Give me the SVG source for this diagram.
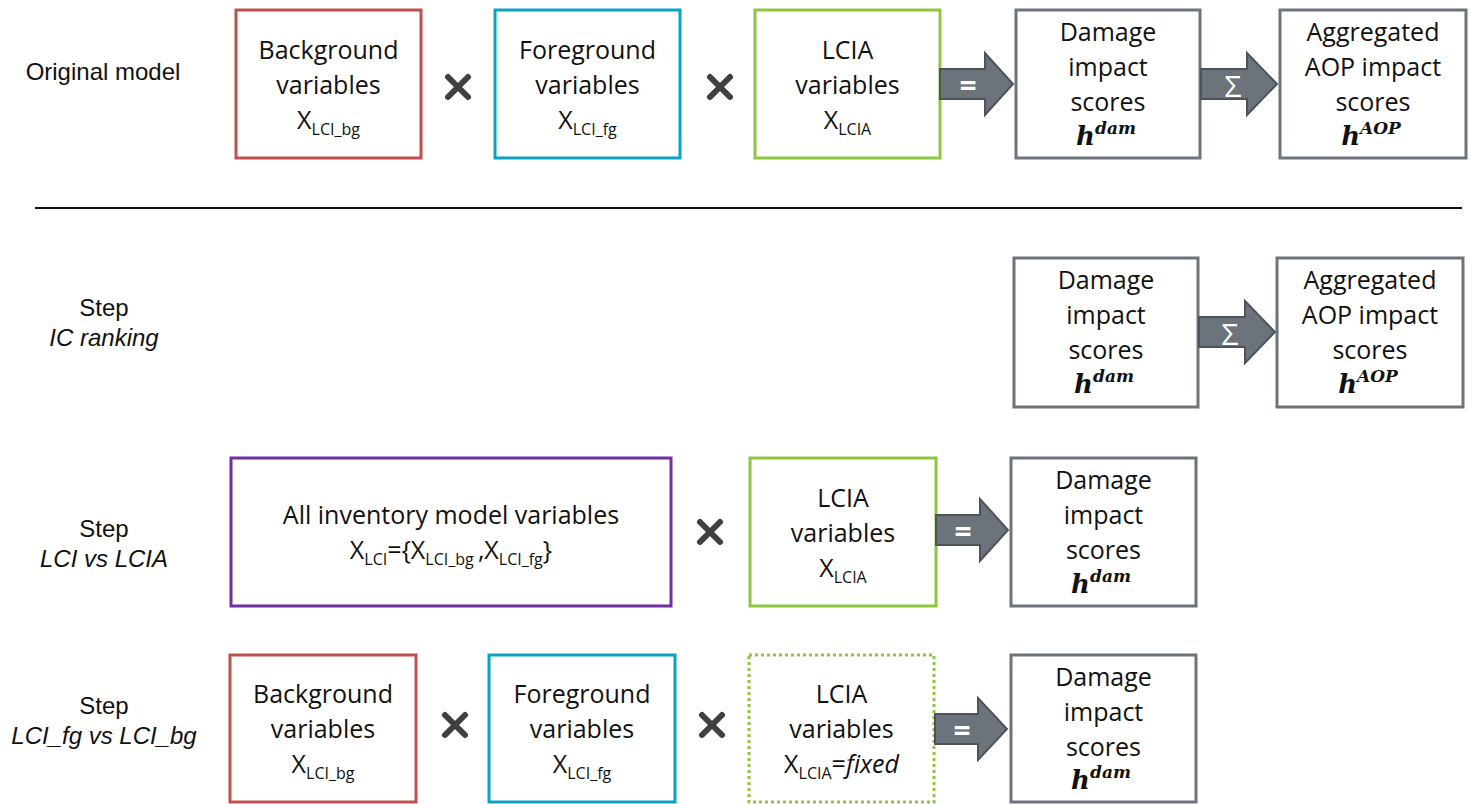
<svg xmlns="http://www.w3.org/2000/svg" width="1470" height="804" viewBox="0 0 1470 804">
<style>
.box{fill:#fff;stroke-width:3}
.red{stroke:#c0504d}
.cyan{stroke:#0ba3c1}
.green{stroke:#8dc63f}
.dot{stroke:#8dc63f;stroke-dasharray:3 3}
.purple{stroke:#7030a0}
.gray{stroke:#6d737a}
.t{font-family:"Open Sans","Liberation Sans",sans-serif;font-size:25px;fill:#111;text-anchor:middle}
.sub{font-size:16px}
.lab{font-family:"Liberation Sans",Arial,sans-serif;font-size:24px;fill:#111;text-anchor:middle}
.m{font-family:"DejaVu Serif","Liberation Serif",serif;font-weight:bold;font-style:italic;font-size:26px;fill:#111;text-anchor:middle}
.msup{font-size:17px}
.arrow{fill:#6d737a;stroke:#4d5359;stroke-width:2}
.op{font-family:"Open Sans","Liberation Sans",sans-serif;font-size:30px;fill:#fff;text-anchor:middle}
.x{stroke:#404040;stroke-width:6;stroke-linecap:round}
</style>

<!-- labels -->
<g id="labels">
<text class="lab" x="103" y="80">Original model</text>
<text class="lab" x="104" y="316">Step</text>
<text class="lab" x="104" y="346" font-style="italic">IC ranking</text>
<text class="lab" x="104" y="537">Step</text>
<text class="lab" x="104" y="567" font-style="italic">LCI vs LCIA</text>
<text class="lab" x="104" y="714">Step</text>
<text class="lab" x="104" y="744" font-style="italic">LCI_fg vs LCI_bg</text>
</g>

<line x1="35" y1="208" x2="1462" y2="208" stroke="#111" stroke-width="2"/>

<!-- Row 1 -->
<g id="r1-bg">
<rect class="box red" x="236" y="10" width="185" height="148"/>
<text class="t" x="328.5" y="59">Background</text>
<text class="t" x="328.5" y="94">variables</text>
<text class="t" x="328.5" y="129">X<tspan class="sub" dy="6">LCI_bg</tspan></text>
</g>
<g id="r1-fg">
<rect class="box cyan" x="495" y="10" width="185" height="148"/>
<text class="t" x="587.5" y="59">Foreground</text>
<text class="t" x="587.5" y="94">variables</text>
<text class="t" x="587.5" y="129">X<tspan class="sub" dy="6">LCI_fg</tspan></text>
</g>
<g id="r1-lcia">
<rect class="box green" x="755" y="10" width="185" height="148"/>
<text class="t" x="847.5" y="59">LCIA</text>
<text class="t" x="847.5" y="94">variables</text>
<text class="t" x="847.5" y="129">X<tspan class="sub" dy="6">LCIA</tspan></text>
</g>
<g id="r1-dam">
<rect class="box gray" x="1016" y="10" width="184" height="148"/>
<text class="t" x="1108" y="41">Damage</text>
<text class="t" x="1108" y="76">impact</text>
<text class="t" x="1108" y="111">scores</text>
<text class="m" x="1106" y="145">h<tspan class="msup" dy="-11">dam</tspan></text>
</g>
<g id="r1-agg">
<rect class="box gray" x="1280" y="10" width="186" height="148"/>
<text class="t" x="1373" y="41">Aggregated</text>
<text class="t" x="1373" y="76">AOP impact</text>
<text class="t" x="1373" y="111">scores</text>
<text class="m" x="1371" y="145">h<tspan class="msup" dy="-11">AOP</tspan></text>
</g>

<!-- Row 2 -->
<g id="r2-dam">
<rect class="box gray" x="1014" y="258" width="184" height="149"/>
<text class="t" x="1106" y="289">Damage</text>
<text class="t" x="1106" y="324">impact</text>
<text class="t" x="1106" y="359">scores</text>
<text class="m" x="1104" y="393">h<tspan class="msup" dy="-11">dam</tspan></text>
</g>
<g id="r2-agg">
<rect class="box gray" x="1277" y="258" width="186" height="149"/>
<text class="t" x="1370" y="289">Aggregated</text>
<text class="t" x="1370" y="324">AOP impact</text>
<text class="t" x="1370" y="359">scores</text>
<text class="m" x="1368" y="393">h<tspan class="msup" dy="-11">AOP</tspan></text>
</g>

<!-- Row 3 -->
<g id="r3-inv">
<rect class="box purple" x="231" y="458" width="440" height="148"/>
<text class="t" x="451" y="524">All inventory model variables</text>
<text class="t" x="451" y="559">X<tspan class="sub" dy="6">LCI</tspan><tspan dy="-6">={X</tspan><tspan class="sub" dy="6">LCI_bg </tspan><tspan dy="-6">,X</tspan><tspan class="sub" dy="6">LCI_fg</tspan><tspan dy="-6">}</tspan></text>
</g>
<g id="r3-lcia">
<rect class="box green" x="750" y="458" width="186" height="148"/>
<text class="t" x="843" y="507">LCIA</text>
<text class="t" x="843" y="542">variables</text>
<text class="t" x="843" y="577">X<tspan class="sub" dy="6">LCIA</tspan></text>
</g>
<g id="r3-dam">
<rect class="box gray" x="1011" y="458" width="185" height="148"/>
<text class="t" x="1103.5" y="489">Damage</text>
<text class="t" x="1103.5" y="524">impact</text>
<text class="t" x="1103.5" y="559">scores</text>
<text class="m" x="1101" y="593">h<tspan class="msup" dy="-11">dam</tspan></text>
</g>

<!-- Row 4 -->
<g id="r4-bg">
<rect class="box red" x="230" y="655" width="186" height="147"/>
<text class="t" x="323" y="703">Background</text>
<text class="t" x="323" y="738">variables</text>
<text class="t" x="323" y="773">X<tspan class="sub" dy="6">LCI_bg</tspan></text>
</g>
<g id="r4-fg">
<rect class="box cyan" x="489" y="655" width="186" height="147"/>
<text class="t" x="582" y="703">Foreground</text>
<text class="t" x="582" y="738">variables</text>
<text class="t" x="582" y="773">X<tspan class="sub" dy="6">LCI_fg</tspan></text>
</g>
<g id="r4-lcia">
<rect class="box dot" x="749" y="655" width="185" height="147"/>
<text class="t" x="841.5" y="703">LCIA</text>
<text class="t" x="841.5" y="738">variables</text>
<text class="t" x="841.5" y="773">X<tspan class="sub" dy="6">LCIA</tspan><tspan dy="-6">=</tspan><tspan font-style="italic">fixed</tspan></text>
</g>
<g id="r4-dam">
<rect class="box gray" x="1011" y="655" width="185" height="147"/>
<text class="t" x="1103.5" y="686">Damage</text>
<text class="t" x="1103.5" y="721">impact</text>
<text class="t" x="1103.5" y="756">scores</text>
<text class="m" x="1101" y="789">h<tspan class="msup" dy="-11">dam</tspan></text>
</g>

<!-- connectors and operators -->
<g id="connectors">
<path class="arrow" d="M940,69 H985 V53 L1013,84 L985,115 V99 H940 Z"/>
<text class="op" x="968" y="96" font-weight="bold">=</text>
<path class="arrow" d="M1201,69 H1247 V53 L1277,84 L1247,115 V99 H1201 Z"/>
<text class="op" x="1233" y="97">Σ</text>
<path class="arrow" d="M1199,317 H1245 V301 L1275,332 L1245,363 V347 H1199 Z"/>
<text class="op" x="1230" y="345">Σ</text>
<path class="arrow" d="M936,515 H980 V499 L1008,530 L980,561 V545 H936 Z"/>
<text class="op" x="963" y="542" font-weight="bold">=</text>
<path class="arrow" d="M935,714 H978 V698 L1007,729 L978,760 V744 H935 Z"/>
<text class="op" x="962" y="741" font-weight="bold">=</text>
<g class="x">
<path d="M448,77 L468,97 M468,77 L448,97"/>
<path d="M710,77 L730,97 M730,77 L710,97"/>
<path d="M700,522 L720,542 M720,522 L700,542"/>
<path d="M445,715 L465,735 M465,715 L445,735"/>
<path d="M702,715 L722,735 M722,715 L702,735"/>
</g>
</g>
</svg>
